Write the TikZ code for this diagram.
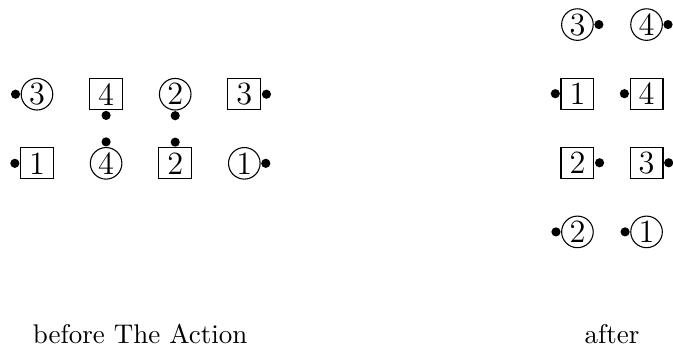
\documentclass[tikz,border=0pt]{standalone}
\usetikzlibrary{positioning}
\begin{document}
\begin{tikzpicture}[
  x=1pt,y=1pt,
  font=\large,
  node distance=25.6pt and 25.6pt,
  chair/.style={draw,circle,inner sep=0pt,minimum size=11.7pt,on grid},
  seat/.style={draw,rectangle,inner sep=0pt,minimum width=12.2pt,minimum height=11.5pt,on grid},
  dot/.style={circle,fill,inner sep=0pt,minimum size=3.4pt},
  caption/.style={font=\normalsize,anchor=base}
]
  \useasboundingbox (0,0) rectangle (249.3,129.3);
  % before
  \node[chair] (bc3) at (13.7,94.4) {3};
  \node[seat,right=of bc3] (bs4) {4};
  \node[chair,right=of bs4] (bc2) {2};
  \node[seat,right=of bc2] (bs3) {3};
  \node[seat,below=of bc3] (bs1) {1};
  \node[chair,right=of bs1] (bc4) {4};
  \node[seat,right=of bc4] (bs2) {2};
  \node[chair,right=of bs2] (bc1) {1};
  % after
  \node[chair] (ac3) at (213.9,120.2) {3};
  \node[chair,right=of ac3] (ac4) {4};
  \node[seat,below=of ac3] (as1) {1};
  \node[seat,right=of as1] (as4) {4};
  \node[seat,below=of as1] (as2) {2};
  \node[seat,right=of as2] (as3) {3};
  \node[chair,below=of as2] (ac2) {2};
  \node[chair,right=of ac2] (ac1) {1};
  % facing dots
  \foreach \n/\side/\opp in {bc3/west/east, bs4/south/north, bc2/south/north, bs3/east/west,
      bs1/west/east, bc4/north/south, bs2/north/south, bc1/east/west,
      ac3/east/west, ac4/east/west, as1/west/east, as4/west/east,
      as2/east/west, as3/east/west, ac2/west/east, ac1/west/east}
    \node[dot,anchor=\opp] (\n-dot) at (\n.\side) {};
  \node[caption] (before) at (51.9,1.9) {before The Action};
  \node[caption] (after) at (226.7,1.9) {after};
\end{tikzpicture}
\end{document}
